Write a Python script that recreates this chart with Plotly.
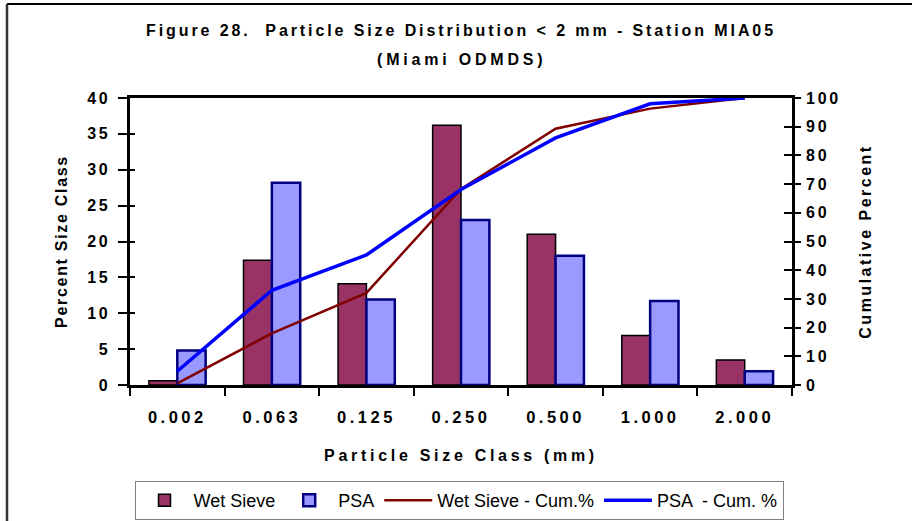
import plotly.graph_objects as go

categories = ["0.002", "0.063", "0.125", "0.250", "0.500", "1.000", "2.000"]
wet_sieve = [0.6, 17.4, 14.1, 36.2, 21.0, 6.9, 3.5]
psa = [4.8, 28.2, 11.9, 23.0, 18.0, 11.7, 1.9]
wet_cum = [0.6, 18.0, 32.1, 68.3, 89.3, 96.3, 100.0]
psa_cum = [4.8, 33.0, 45.3, 68.1, 86.1, 98.0, 100.0]
left_ticks = [0, 5, 10, 15, 20, 25, 30, 35, 40]
right_ticks = [0, 10, 20, 30, 40, 50, 60, 70, 80, 90, 100]

FONT = "Liberation Sans, Arial, sans-serif"


def sp(text, px):
    return f'<span style="letter-spacing:{px}px">{text}</span>'


fig = go.Figure()
fig.add_trace(go.Bar(
    x=categories, y=wet_sieve, name="Wet Sieve",
    marker=dict(color="#993366", line=dict(color="#000000", width=1.5)),
))
fig.add_trace(go.Bar(
    x=categories, y=psa, name="PSA",
    marker=dict(color="#9999FF", line=dict(color="#000080", width=2.5)),
))
fig.add_trace(go.Scatter(
    x=categories, y=wet_cum, name="Wet Sieve - Cum.%", yaxis="y2",
    mode="lines", line=dict(color="#800000", width=2.5),
))
fig.add_trace(go.Scatter(
    x=categories, y=psa_cum, name="PSA  - Cum. %", yaxis="y2",
    mode="lines", line=dict(color="#0000FF", width=3.5),
))
# invisible helper traces for inside tick marks (crossing ticks)
fig.add_trace(go.Scatter(x=categories, y=[0] * len(categories), yaxis="y3",
                         mode="lines", opacity=0, showlegend=False, hoverinfo="skip"))
fig.add_trace(go.Scatter(x=categories, y=[0] * len(categories), yaxis="y4",
                         mode="lines", opacity=0, showlegend=False, hoverinfo="skip"))

fig.update_layout(
    width=912, height=521,
    margin=dict(l=130, r=120, t=98, b=136, autoexpand=False),
    paper_bgcolor="white", plot_bgcolor="white",
    font=dict(family=FONT, color="black"),
    barmode="group", bargap=0.4, bargroupgap=0,
    title=dict(
        text=sp("Figure 28.\u00a0 Particle Size Distribution &lt; 2 mm - Station MIA05", 2.9),
        x=0.5, xref="paper", xanchor="center",
        y=1 - 30 / 521, yref="container", yanchor="middle",
        font=dict(size=16, family=FONT, weight="bold"),
    ),
    annotations=[dict(
        text=sp("(Miami ODMDS)", 3.8), x=0.5, xref="paper", xanchor="center",
        y=(385 - 60) / 287, yref="paper", yanchor="middle", showarrow=False,
        font=dict(size=16, family=FONT, weight="bold"),
    )],
    xaxis=dict(
        type="category", tickson="boundaries", ticks="outside", ticklen=8,
        tickwidth=1.5, tickcolor="black", automargin=False,
        tickvals=categories, ticktext=[sp(c, 3.5) for c in categories],
        tickfont=dict(size=16.5, family=FONT, weight="bold"),
        ticklabelstandoff=15,
        showline=True, linecolor="black", linewidth=2.5, mirror=True,
        showgrid=False, zeroline=False,
        title=dict(text=sp("Particle Size Class (mm)", 3.7), standoff=26,
                   font=dict(size=16, family=FONT, weight="bold")),
    ),
    yaxis=dict(
        range=[0, 40], tickvals=left_ticks, ticktext=[sp(t, 2.5) for t in left_ticks],
        ticks="outside", ticklen=9, tickwidth=1.5, tickcolor="black", automargin=False,
        tickfont=dict(size=16, family=FONT, weight="bold"),
        ticklabelstandoff=5,
        showline=True, linecolor="black", linewidth=2.5,
        showgrid=False, zeroline=False,
        title=dict(text=sp("Percent Size Class", 1.7), standoff=16,
                   font=dict(size=16, family=FONT, weight="bold")),
    ),
    yaxis2=dict(
        range=[0, 100], overlaying="y", side="right", anchor="x", automargin=False,
        tickvals=right_ticks, ticktext=[sp(t, 2.8) for t in right_ticks],
        ticks="outside", ticklen=6, tickwidth=1.5, tickcolor="black",
        tickfont=dict(size=16, family=FONT, weight="bold"),
        ticklabelstandoff=2,
        showline=True, linecolor="black", linewidth=2.5,
        showgrid=False, zeroline=False,
        title=dict(text=sp("Cumulative Percent", 2.5), standoff=20,
                   font=dict(size=16, family=FONT, weight="bold")),
    ),
    yaxis3=dict(
        range=[0, 40], overlaying="y", side="left", anchor="x", automargin=False,
        tickvals=left_ticks, ticks="inside", ticklen=5, tickwidth=1.5,
        tickcolor="black", showticklabels=False, showline=False,
        showgrid=False, zeroline=False,
    ),
    yaxis4=dict(
        range=[0, 100], overlaying="y", side="right", anchor="x", automargin=False,
        tickvals=right_ticks, ticks="inside", ticklen=8, tickwidth=1.5,
        tickcolor="black", showticklabels=False, showline=False,
        showgrid=False, zeroline=False,
    ),
    legend=dict(
        orientation="h", x=(459 - 130) / 662, xanchor="center",
        y=(385 - 481) / 287, yanchor="top", itemwidth=48,
        bgcolor="white", bordercolor="#808080", borderwidth=1,
        font=dict(size=18, family=FONT), traceorder="normal",
    ),
    shapes=[
        dict(type="line", xref="paper", yref="paper",
             x0=(7 - 130) / 662, x1=(912 - 130) / 662,
             y0=(385 - 4) / 287, y1=(385 - 4) / 287,
             line=dict(color="black", width=2)),
        dict(type="line", xref="paper", yref="paper",
             x0=(7 - 130) / 662, x1=(7 - 130) / 662,
             y0=(385 - 4) / 287, y1=(385 - 521) / 287,
             line=dict(color="#333333", width=2.5)),
    ],
)

fig.write_html("out.html", config={"displayModeBar": False},
               post_script="document.body.style.margin='0px';")
